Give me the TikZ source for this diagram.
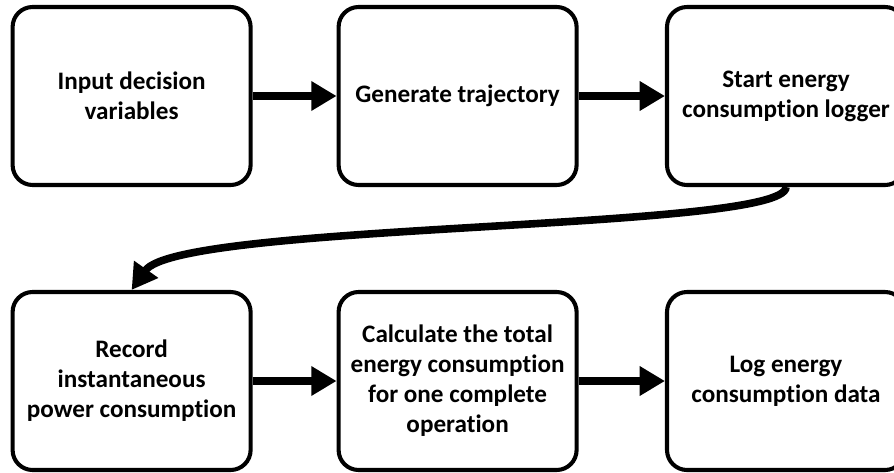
\documentclass[tikz,border=0pt]{standalone}
\usepackage{fontspec}
\setmainfont{Carlito}[Ligatures=NoCommon]
\usepackage{tikz}
\usetikzlibrary{arrows.meta,shapes,positioning}

\begin{document}
\begin{tikzpicture}[
        stepbox/.style={draw, line width=2.9pt, rounded corners=0.5cm,
            minimum width=5.95cm, minimum height=4.45cm, align=center,
            font=\fontsize{17.9}{21.3}\selectfont\bfseries},
        flow/.style={line width=5.4pt, -{Triangle[length=18pt, width=20pt]}}
    ]
        \useasboundingbox (0,0) rectangle (22.35,-11.8);

        % Top row
        \node[stepbox] (input) at (3.29,-2.4) {Input decision\\variables};
        \node[stepbox] (traj) at (11.44,-2.4) {Generate trajectory};
        \node[stepbox] (logger) at (19.65,-2.4) {Start energy\\consumption logger};

        % Bottom row
        \node[stepbox] (record) at (3.29,-9.525) {Record\\instantaneous\\power consumption};
        \node[stepbox] (total) at (11.44,-9.525) {Calculate the total\\energy consumption\\for one complete\\operation};
        \node[stepbox] (logdata) at (19.65,-9.525) {Log energy\\consumption data};

        % Connect the steps
        \draw[flow] (input) -- (traj);
        \draw[flow] (traj) -- (logger);
        \draw[flow] (logger.south) .. controls +(0,-1.1) and +(1.2,1.7) .. (record.north);
        \draw[flow] (record) -- (total);
        \draw[flow] (total) -- (logdata);
    \end{tikzpicture}
\end{document}
